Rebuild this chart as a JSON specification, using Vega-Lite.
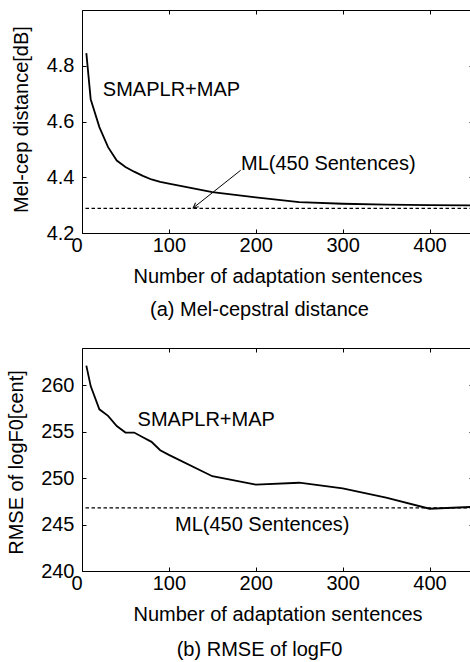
{
  "$schema": "https://vega.github.io/schema/vega-lite/v6.json",
  "padding": {"left": 5, "top": 9, "right": 0, "bottom": 0},
  "background": "white",
  "bounds": "flush",
  "spacing": 115,
  "config": {
    "font": "Liberation Sans",
    "view": {"stroke": null},
    "title": {"font": "Liberation Sans", "fontSize": 20, "fontWeight": "normal", "color": "black"},
    "text": {"font": "Liberation Sans", "fontSize": 20, "color": "black"},
    "axis": {
      "domainColor": "black", "domainWidth": 1, "tickColor": "black", "tickWidth": 1, "tickSize": -4,
      "labelFont": "Liberation Sans", "labelFontSize": 20, "labelColor": "black",
      "titleFont": "Liberation Sans", "titleFontSize": 20, "titleFontWeight": "normal", "titleColor": "black",
      "grid": false, "labelFlush": false, "labelOverlap": false
    }
  },
  "datasets": {
    "melcep": [
      {"n": 5, "v": 4.845}, {"n": 10, "v": 4.68}, {"n": 20, "v": 4.58}, {"n": 30, "v": 4.508},
      {"n": 40, "v": 4.46}, {"n": 50, "v": 4.437}, {"n": 60, "v": 4.42}, {"n": 70, "v": 4.405},
      {"n": 80, "v": 4.392}, {"n": 90, "v": 4.383}, {"n": 100, "v": 4.377}, {"n": 150, "v": 4.347},
      {"n": 200, "v": 4.328}, {"n": 250, "v": 4.311}, {"n": 300, "v": 4.305}, {"n": 350, "v": 4.302},
      {"n": 400, "v": 4.3}, {"n": 450, "v": 4.299}
    ],
    "rmse": [
      {"n": 5, "v": 262.1}, {"n": 10, "v": 259.9}, {"n": 20, "v": 257.4}, {"n": 30, "v": 256.7},
      {"n": 40, "v": 255.6}, {"n": 50, "v": 254.9}, {"n": 60, "v": 254.9}, {"n": 70, "v": 254.4},
      {"n": 80, "v": 253.9}, {"n": 90, "v": 253.0}, {"n": 100, "v": 252.5}, {"n": 150, "v": 250.2},
      {"n": 200, "v": 249.3}, {"n": 250, "v": 249.5}, {"n": 300, "v": 248.9}, {"n": 350, "v": 247.9},
      {"n": 400, "v": 246.7}, {"n": 450, "v": 246.9}
    ],
    "labelsA": [
      {"n": 24, "v": 4.713, "label": "SMAPLR+MAP"},
      {"n": 183, "v": 4.446, "label": "ML(450 Sentences)"}
    ],
    "labelsB": [
      {"n": 64, "v": 256.27, "label": "SMAPLR+MAP"},
      {"n": 107, "v": 244.91, "label": "ML(450 Sentences)"}
    ],
    "mlA": [{"ml": 4.288}],
    "mlB": [{"ml": 246.8}],
    "arrowA": [{"n1": 182.6, "v1": 4.425, "n2": 128, "v2": 4.29}]
  },
  "vconcat": [
    {
      "width": 391, "height": 223,
      "title": {"text": "(a) Mel-cepstral distance", "orient": "bottom", "frame": "group", "anchor": "middle", "dx": -18, "offset": 14},
      "layer": [
        {
          "data": {"name": "melcep"},
          "mark": {"type": "line", "color": "black", "strokeWidth": 1.8},
          "encoding": {
            "x": {"field": "n", "type": "quantitative", "scale": {"domain": [0, 450], "nice": false},
                  "axis": {"orient": "bottom", "values": [0, 100, 200, 300, 400], "title": "Number of adaptation sentences",
                           "labelPadding": 6, "titlePadding": 11,
                           "labelAlign": {"condition": {"test": "datum.value == 0", "value": "right"}, "value": "center"}}},
            "y": {"field": "v", "type": "quantitative", "scale": {"domain": [4.2, 5.0], "nice": false, "zero": false},
                  "axis": {"orient": "left", "values": [4.2, 4.4, 4.6, 4.8], "format": ".1f", "title": "Mel-cep distance[dB]",
                           "labelPadding": 12, "titleX": -55, "titleY": 109, "titleBaseline": "alphabetic", "titleAlign": "center"}}
          }
        },
        {
          "data": {"name": "mlA"},
          "mark": {"type": "rule", "color": "black", "strokeWidth": 1.2, "strokeDash": [3.5, 2.5]},
          "encoding": {"y": {"field": "ml", "type": "quantitative", "axis": null}}
        },
        {
          "data": {"name": "arrowA"},
          "mark": {"type": "rule", "color": "black", "strokeWidth": 1},
          "encoding": {
            "x": {"field": "n1", "type": "quantitative", "axis": null}, "y": {"field": "v1", "type": "quantitative", "axis": null},
            "x2": {"field": "n2"}, "y2": {"field": "v2"}
          }
        },
        {
          "data": {"name": "arrowA"},
          "mark": {"type": "point", "shape": "M-0.5,1L0,0L0.5,1", "angle": 231, "size": 100, "filled": false, "color": "black", "strokeWidth": 1, "opacity": 1},
          "encoding": {
            "x": {"field": "n2", "type": "quantitative", "axis": null}, "y": {"field": "v2", "type": "quantitative", "axis": null}
          }
        },
        {
          "data": {"name": "labelsA"},
          "mark": {"type": "text", "align": "left", "baseline": "middle"},
          "encoding": {
            "x": {"field": "n", "type": "quantitative", "axis": {"orient": "top", "values": [0, 100, 200, 300, 400], "labels": false, "title": null}},
            "y": {"field": "v", "type": "quantitative", "axis": {"orient": "right", "values": [4.2, 4.4, 4.6, 4.8], "labels": false, "title": null}},
            "text": {"field": "label"}
          }
        }
      ]
    },
    {
      "width": 391, "height": 223,
      "title": {"text": "(b) RMSE of logF0", "orient": "bottom", "frame": "group", "anchor": "middle", "dx": -18, "offset": 16},
      "layer": [
        {
          "data": {"name": "rmse"},
          "mark": {"type": "line", "color": "black", "strokeWidth": 1.8},
          "encoding": {
            "x": {"field": "n", "type": "quantitative", "scale": {"domain": [0, 450], "nice": false},
                  "axis": {"orient": "bottom", "values": [0, 100, 200, 300, 400], "title": "Number of adaptation sentences",
                           "labelPadding": 6, "titlePadding": 11,
                           "labelAlign": {"condition": {"test": "datum.value == 0", "value": "right"}, "value": "center"}}},
            "y": {"field": "v", "type": "quantitative", "scale": {"domain": [240, 264], "nice": false, "zero": false},
                  "axis": {"orient": "left", "values": [240, 245, 250, 255, 260], "title": "RMSE of logF0[cent]",
                           "labelPadding": 12, "titleX": -60, "titleY": 114, "titleBaseline": "alphabetic", "titleAlign": "center"}}
          }
        },
        {
          "data": {"name": "mlB"},
          "mark": {"type": "rule", "color": "black", "strokeWidth": 1.2, "strokeDash": [3.5, 2.5]},
          "encoding": {"y": {"field": "ml", "type": "quantitative", "axis": null}}
        },
        {
          "data": {"name": "labelsB"},
          "mark": {"type": "text", "align": "left", "baseline": "middle"},
          "encoding": {
            "x": {"field": "n", "type": "quantitative", "axis": {"orient": "top", "values": [0, 100, 200, 300, 400], "labels": false, "title": null}},
            "y": {"field": "v", "type": "quantitative", "axis": {"orient": "right", "values": [240, 245, 250, 255, 260], "labels": false, "title": null}},
            "text": {"field": "label"}
          }
        }
      ]
    }
  ]
}
